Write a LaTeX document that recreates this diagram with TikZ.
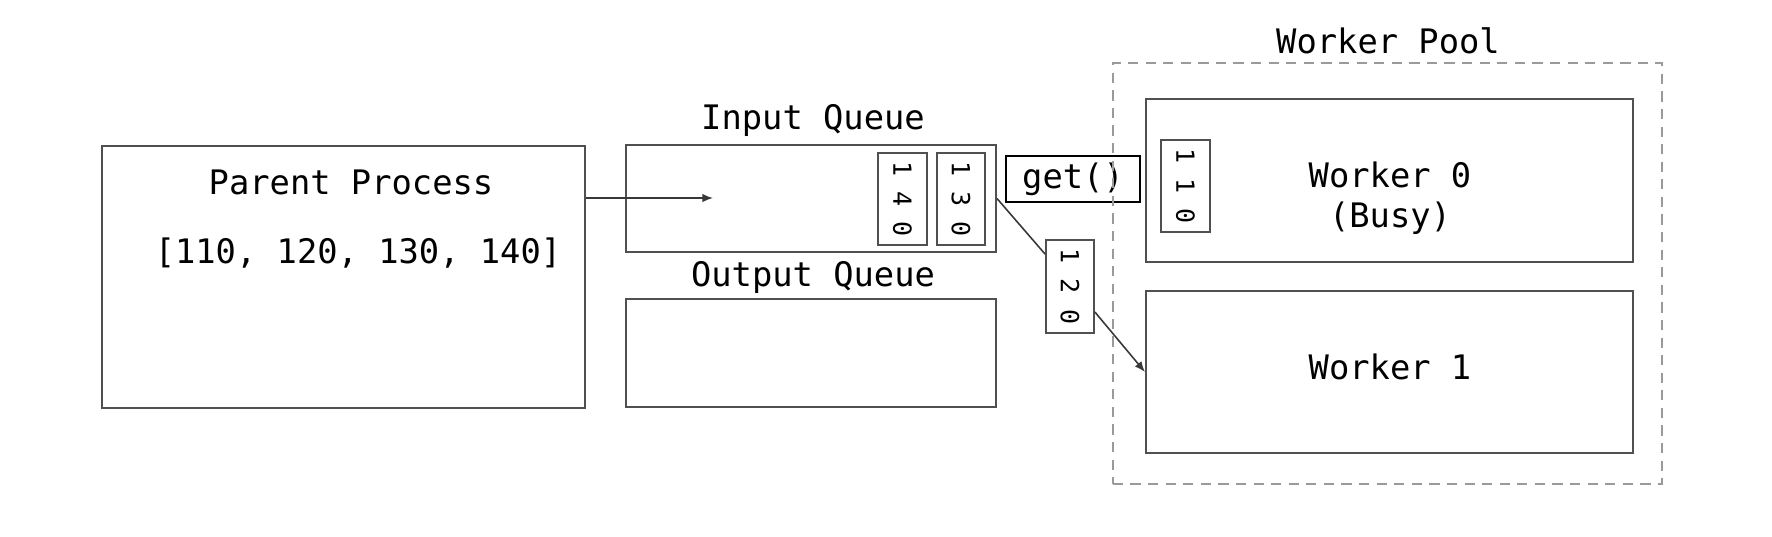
\documentclass[tikz,border=0pt]{standalone}
\usepackage{fontspec}
\usepackage{graphicx}
\setmainfont{DejaVu Sans Mono}
\usetikzlibrary{arrows.meta}
\definecolor{boxline}{HTML}{505050}
\definecolor{dashline}{HTML}{9A9A9A}
\tikzset{
  box/.style={draw=boxline, line width=0.5pt, inner sep=0pt, rectangle},
  txt/.style={inner sep=0pt, font=\fontsize{9.6}{11.4}\selectfont},
  dig/.style={box, font=\fontsize{7.1}{8}\selectfont},
  conn/.style={draw=boxline!70!black, line width=0.45pt},
  arr/.style={conn, -{Latex[length=3pt,width=2.4pt]}},
}
\newcommand{\vdig}[1]{\rotatebox{-90}{#1}}
\begin{document}
\begin{tikzpicture}[x=0.01cm, y=-0.01cm]
\useasboundingbox (0,0) rectangle (1772,536);
% parent
\node[box, minimum width=4.83cm, minimum height=2.62cm] (parent) at (343.5,277) {};
\node[txt] (ptitle) at (351,182) {Parent Process};
\node[txt] (plist) at (358,253) {[110, 120, 130, 140]};
% input queue
\node[box, minimum width=3.70cm, minimum height=1.07cm] (inq) at (811,198.5) {};
\node[txt] (inqlabel) at (813,120) {Input Queue};
\node[dig, minimum width=0.49cm, minimum height=0.92cm] (q140) at (902.5,199) {\vdig{1 4 0}};
\node[dig, minimum width=0.48cm, minimum height=0.92cm] (q130) at (961,199) {\vdig{1 3 0}};
% output queue
\node[box, minimum width=3.70cm, minimum height=1.08cm] (outq) at (811,353) {};
\node[txt] (outqlabel) at (813,277) {Output Queue};
% get()
\node[box, draw=black, line width=0.7pt, minimum width=1.34cm, minimum height=0.46cm, font=\fontsize{9.6}{11.4}\selectfont] (get) at (1073,179) {get()};
% moving item
\node[dig, minimum width=0.48cm, minimum height=0.93cm] (q120) at (1070,286.5) {\vdig{1 2 0}};
% worker pool
\node[draw=dashline, line width=0.5pt, dash pattern=on 2.9pt off 2.1pt, inner sep=0pt, minimum width=5.49cm, minimum height=4.21cm] (pool) at (1387.5,273.5) {};
\node[txt] (poollabel) at (1388,41) {Worker Pool};
\node[box, minimum width=4.87cm, minimum height=1.63cm] (w0) at (1389.5,180.5) {};
\node[txt, align=center] (w0label) at (1390,198) {Worker 0\\(Busy)};
\node[dig, minimum width=0.49cm, minimum height=0.92cm] (q110) at (1185.5,186) {\vdig{1 1 0}};
\node[box, minimum width=4.87cm, minimum height=1.62cm] (w1) at (1389.5,372) {};
\node[txt] (w1label) at (1390,367) {Worker 1};
% connectors
\coordinate (intip) at (713,198);
\draw[arr] (parent.east |- intip) -- (intip);
\draw[conn] (inq.east) -- ([yshift=-0.15cm]q120.north west);
\draw[arr] ([yshift=-0.255cm]q120.east) -- (w1.west);
\end{tikzpicture}
\end{document}
